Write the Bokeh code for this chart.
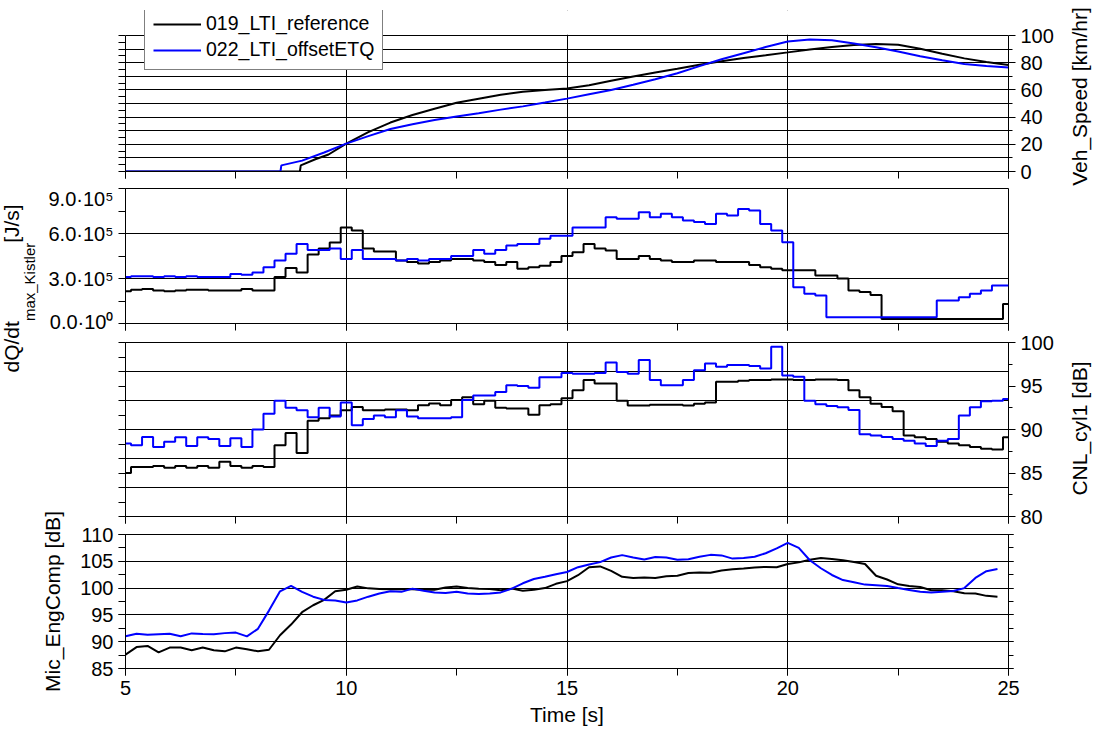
import math
import numpy as np
from bokeh.plotting import figure
from bokeh.layouts import column, row
from bokeh.models import (Range1d, LinearAxis, SingleIntervalTicker, FixedTicker,
                          Legend, LegendItem, Label, CustomJSTickFormatter,
                          BoxAnnotation)
from bokeh.embed import file_html
from bokeh.resources import INLINE

FONT = "Liberation Sans"
TICK_FS = "20px"
TITLE_FS = "21px"
BLUE = "#0000ff"

# ---------------------------------------------------------------- data
# logging raster of the sampled channels (0.25 s)
time_s = np.linspace(5.0, 25.0, 81)
mic_time_s = time_s[:-1]

# vehicle speed [km/h]
speed_ref_t = [5.0, 8.95, 8.97, 9.3, 9.6, 10.0, 10.5, 11.0, 11.5, 12.0, 12.5, 13.0,
               13.5, 14.0, 14.5, 15.0, 15.5, 16.0, 16.5, 17.0, 17.5, 18.0, 18.5,
               19.0, 19.5, 20.0, 20.5, 21.0, 21.5, 22.0, 22.5, 23.0, 23.5, 24.0,
               24.5, 25.0]
speed_ref = [0, 0, 4.5, 9.0, 12.5, 20.5, 29.0, 36.0, 41.5, 46.2, 50.5, 53.5,
             56.5, 58.7, 60.0, 61.0, 63.5, 66.7, 69.8, 72.8, 75.5, 78.5, 81.0,
             83.5, 85.5, 87.6, 89.8, 91.6, 93.0, 93.8, 93.2, 90.3, 86.6, 83.2,
             80.5, 78.3]
speed_etq_t = [5.0, 8.51, 8.53, 9.0, 9.5, 10.0, 10.5, 11.0, 11.5, 12.0, 12.5, 13.0,
               13.5, 14.0, 14.5, 15.0, 15.5, 16.0, 16.5, 17.0, 17.5, 18.0, 18.5,
               19.0, 19.5, 20.0, 20.5, 21.0, 21.5, 22.0, 22.5, 23.0, 23.5, 24.0,
               24.5, 25.0]
speed_etq = [0, 0, 4.5, 8.0, 14.0, 20.5, 26.0, 31.3, 34.8, 37.9, 40.4, 42.9,
             45.5, 47.9, 50.7, 53.6, 56.8, 60.0, 63.8, 67.8, 72.3, 77.5, 82.5,
             87.0, 91.5, 95.6, 97.0, 96.5, 94.2, 91.4, 88.2, 84.7, 81.8, 79.0,
             77.5, 76.5]

# heat release rate maximum [1e5 J/s], one row per second (x.00 .25 .50 .75)
dqdt_ref = [
    2.15, 2.25, 2.30, 2.20,   # 5
    2.15, 2.20, 2.25, 2.25,   # 6
    2.20, 2.20, 2.20, 2.30,   # 7
    2.20, 2.20, 3.10, 3.70,   # 8
    3.40, 4.60, 5.00, 5.40,   # 9
    6.40, 6.20, 5.00, 4.80,   # 10
    4.80, 4.20, 4.10, 4.00,   # 11
    4.10, 4.20, 4.30, 4.30,   # 12
    4.20, 4.10, 3.90, 4.10,   # 13
    3.65, 3.75, 3.85, 4.10,   # 14
    4.50, 4.75, 5.30, 5.00,   # 15
    4.87, 4.30, 4.30, 4.50,   # 16
    4.30, 4.20, 4.10, 4.10,   # 17
    4.20, 4.20, 4.10, 4.10,   # 18
    4.10, 3.90, 3.75, 3.65,   # 19
    3.55, 3.55, 3.55, 3.20,   # 20
    3.20, 3.00, 2.20, 2.10,   # 21
    1.90, 0.30, 0.30, 0.30,   # 22
    0.30, 0.30, 0.30, 0.30,   # 23
    0.30, 0.30, 0.30, 0.30,   # 24
    1.30]                     # 25
dqdt_etq = [
    3.10, 3.15, 3.15, 3.10,
    3.15, 3.10, 3.15, 3.10,
    3.10, 3.10, 3.30, 3.25,
    3.40, 3.75, 4.20, 4.65,
    5.30, 4.90, 4.90, 5.00,
    4.30, 4.90, 4.30, 4.30,
    4.30, 4.20, 4.30, 4.20,
    4.30, 4.30, 4.50, 4.50,
    4.90, 4.65, 4.90, 5.20,
    5.30, 5.30, 5.65, 5.85,
    5.85, 6.40, 6.40, 6.40,
    7.09, 6.98, 6.98, 7.42,
    7.09, 7.31, 7.09, 6.87,
    6.76, 6.64, 7.31, 7.20,
    7.64, 7.53, 6.64, 6.20,
    5.42, 2.42, 1.98, 1.87,
    0.42, 0.42, 0.42, 0.42,
    0.42, 0.42, 0.42, 0.42,
    0.42, 0.42, 1.53, 1.53,
    1.75, 1.98, 2.20, 2.53,
    2.53]

# combustion noise level cylinder 1 [dB]
cnl_ref = [
    85.0, 85.7, 85.7, 85.8,
    85.6, 85.8, 85.6, 85.8,
    85.6, 86.3, 85.8, 85.6,
    85.8, 85.7, 88.2, 89.6,
    87.3, 91.0, 91.3, 91.6,
    92.2, 92.6, 92.2, 92.2,
    92.3, 92.3, 92.2, 92.8,
    93.0, 92.8, 93.4, 93.7,
    92.9, 93.3, 92.5, 92.4,
    92.4, 91.7, 92.8, 92.9,
    93.6, 94.5, 95.7, 95.3,
    95.3, 93.3, 92.75, 92.75,
    92.85, 92.85, 92.85, 92.75,
    92.95, 93.1, 95.5, 95.5,
    95.6, 95.7, 95.7, 95.75,
    95.75, 95.7, 95.7, 95.75,
    95.75, 95.7, 94.5, 93.7,
    92.95, 92.6, 92.1, 89.3,
    89.1, 88.9, 88.6, 88.4,
    88.2, 88.0, 87.8, 87.7,
    89.1]
cnl_etq = [
    88.4, 88.2, 89.15, 88.0,
    88.6, 89.1, 88.1, 89.1,
    88.9, 88.1, 89.0, 88.0,
    90.0, 91.8, 93.3, 92.5,
    92.2, 91.4, 92.5, 91.5,
    93.1, 90.5, 91.2, 91.6,
    91.4, 92.2, 91.5, 91.3,
    91.3, 91.3, 91.4, 93.4,
    93.9, 93.9, 94.3, 95.1,
    95.0, 94.8, 96.0, 96.0,
    96.5, 96.4, 96.4, 96.5,
    97.7, 96.6, 96.4, 98.0,
    95.7, 95.1, 95.1, 95.7,
    96.8, 97.6, 97.2, 97.4,
    97.4, 97.3, 97.0, 99.5,
    96.2, 96.05, 93.3, 92.9,
    92.7, 92.55, 92.25, 89.45,
    89.3, 89.15, 88.9, 88.7,
    88.4, 88.1, 88.7, 88.9,
    91.6, 92.55, 93.25, 93.3,
    93.5]

# engine compartment microphone [dB]
mic_ref = [
    87.6, 89.0, 89.2, 88.0,
    88.9, 88.9, 88.4, 88.9,
    88.4, 88.2, 88.9, 88.6,
    88.2, 88.5, 91.2, 93.2,
    95.5, 96.8, 97.8, 99.4,
    99.7, 100.3, 99.95, 99.85,
    99.8, 99.8, 99.8, 99.7,
    99.7, 100.1, 100.3, 100.0,
    99.9, 99.85, 99.6, 99.9,
    99.5, 99.7, 100.0, 100.8,
    101.3, 102.4, 103.9, 104.05,
    103.2, 102.1, 101.9, 102.0,
    101.9, 102.2, 102.3, 102.8,
    102.9, 102.85, 103.3, 103.5,
    103.65, 103.85, 103.95, 103.9,
    104.5, 104.8, 105.3, 105.6,
    105.45, 105.2, 104.85, 104.5,
    102.3, 101.6, 100.7, 100.4,
    100.2, 99.6, 99.6, 99.4,
    99.05, 99.0, 98.55, 98.4]
mic_etq = [
    91.0, 91.5, 91.3, 91.4,
    91.5, 91.0, 91.55, 91.45,
    91.4, 91.6, 91.7, 91.0,
    92.4, 95.8, 99.4, 100.4,
    99.3, 98.4, 97.8, 97.7,
    97.3, 97.7, 98.4, 99.0,
    99.4, 99.3, 99.9, 99.5,
    99.2, 99.1, 99.3, 99.0,
    98.9, 99.0, 99.2, 99.9,
    100.9, 101.7, 102.1, 102.6,
    103.0, 103.9, 104.4, 104.85,
    105.7, 106.15, 105.7, 105.35,
    105.8, 105.7, 105.3, 105.4,
    105.85, 106.2, 106.1, 105.5,
    105.6, 105.85, 106.5, 107.4,
    108.45, 107.5, 105.2, 103.7,
    102.45, 101.5, 101.1, 100.65,
    100.55, 100.4, 100.0, 99.65,
    99.3, 99.2, 99.3, 99.45,
    100.0, 101.9, 103.15, 103.55]

legend_labels = ["019_LTI_reference", "022_LTI_offsetETQ"]
dq_tick_labels = {0: "0.0\u00b710\u2070", 3: "3.0\u00b710\u2075",
                  6: "6.0\u00b710\u2075", 9: "9.0\u00b710\u2075"}
speed_ticks = [0, 20, 40, 60, 80, 100]
speed_grid = [0, 10, 20, 30, 40, 50, 60, 70, 80, 90, 100]

# ---------------------------------------------------------------- helpers
x_range = Range1d(5, 25)
BLANK = CustomJSTickFormatter(code="return ''")


def style_axis(ax, labels=True, major_out=7, minor_out=7):
    ax.axis_line_color = "black"
    ax.axis_line_width = 1
    ax.major_tick_line_color = "black"
    ax.minor_tick_line_color = "black"
    ax.major_tick_in = 0
    ax.minor_tick_in = 0
    ax.major_tick_out = major_out
    ax.minor_tick_out = minor_out
    ax.major_label_text_font = FONT
    ax.major_label_text_color = "black"
    ax.axis_label_text_font = FONT
    ax.axis_label_text_font_size = TITLE_FS
    ax.axis_label_text_font_style = "normal"
    ax.axis_label_text_color = "black"
    if labels:
        ax.major_label_text_font_size = TICK_FS
        ax.major_label_standoff = 5
    else:
        ax.formatter = BLANK
        ax.major_label_text_font_size = "0px"
        ax.major_label_standoff = 0


def panel(width, height, left, right, top, bottom, y_range):
    p = figure(width=width, height=height, x_range=x_range, y_range=y_range,
               output_backend="svg", toolbar_location=None,
               min_border_left=left, min_border_right=right,
               min_border_top=top, min_border_bottom=bottom)
    p.background_fill_color = "white"
    p.border_fill_color = "white"
    p.outline_line_color = "black"
    p.outline_line_width = 1
    p.xgrid.ticker = SingleIntervalTicker(interval=5)
    for g in (p.xgrid[0], p.ygrid[0]):
        g.grid_line_color = "black"
        g.grid_line_width = 1
    xa = p.xaxis[0]
    xa.ticker = SingleIntervalTicker(interval=5, num_minor_ticks=2)
    style_axis(xa, labels=False)
    return p


def title_strip(width, height):
    s = figure(width=width, height=height, x_range=Range1d(0, 1), y_range=Range1d(0, 1),
               output_backend="svg", toolbar_location=None,
               x_axis_type=None, y_axis_type=None, min_border=0)
    s.outline_line_color = None
    s.background_fill_color = "white"
    s.border_fill_color = "white"
    return s


def vtext(s, txt, sx, sy, size, align="left"):
    s.add_layout(Label(x=sx, y=sy, x_units="screen", y_units="screen", text=txt,
                       angle=math.pi / 2, text_font=FONT, text_font_size=size,
                       text_align=align, text_baseline="alphabetic",
                       text_color="black"))


# ---------------------------------------------------------------- vehicle speed
# frame reaches above 100 km/h so the legend can sit over the top edge
p1 = panel(1062, 187, 125, 54, 10, 16, Range1d(0, 118.4))
p1.outline_line_color = None
p1.ygrid.ticker = FixedTicker(ticks=speed_grid)
ya = p1.yaxis[0]
ya.ticker = FixedTicker(ticks=speed_grid, minor_ticks=[v + 5 for v in speed_grid[:-1]])
ya.bounds = (0, 100)
style_axis(ya, labels=False)
ra = LinearAxis(ticker=FixedTicker(ticks=speed_ticks,
                                   minor_ticks=[v + 10 for v in speed_ticks[:-1]]),
                bounds=(0, 100))
style_axis(ra, labels=True, minor_out=4)
p1.add_layout(ra, "right")
p1.add_layout(BoxAnnotation(bottom=100.6, fill_color="white", fill_alpha=1.0,
                            line_alpha=0, level="underlay"))
r_ref = p1.line(speed_ref_t, speed_ref, line_color="black", line_width=2)
r_etq = p1.line(speed_etq_t, speed_etq, line_color=BLUE, line_width=2)
legend = Legend(items=[LegendItem(label=legend_labels[0], renderers=[r_ref]),
                       LegendItem(label=legend_labels[1], renderers=[r_etq])],
                location=(19, 101), orientation="vertical",
                label_text_font=FONT, label_text_font_size="19.5px",
                label_text_color="black", glyph_width=48, glyph_height=20,
                label_height=20, label_standoff=5, spacing=3, padding=8,
                margin=0, border_line_color="black", border_line_width=1,
                background_fill_color="white", background_fill_alpha=1.0)
p1.add_layout(legend)

# ---------------------------------------------------------------- dQ/dt max
p2 = panel(1022, 145, 85, 54, 1, 9, Range1d(0, 9))
p2.ygrid.ticker = FixedTicker(ticks=[3, 6])
ya = p2.yaxis[0]
ya.ticker = FixedTicker(ticks=[0, 3, 6, 9], minor_ticks=[1.5, 4.5, 7.5])
style_axis(ya, labels=True)
ya.major_label_overrides = dq_tick_labels
p2.step(time_s, dqdt_ref, mode="center", line_color="black", line_width=2)
p2.step(time_s, dqdt_etq, mode="center", line_color=BLUE, line_width=2)

# ---------------------------------------------------------------- CNL cylinder 1
p3 = panel(1022, 198, 85, 54, 10, 14, Range1d(80, 100))
cnl_grid = [80 + k * 10 / 3 for k in range(7)]
p3.ygrid.ticker = FixedTicker(ticks=cnl_grid)
ya = p3.yaxis[0]
ya.ticker = FixedTicker(ticks=cnl_grid, minor_ticks=[v + 5 / 3 for v in cnl_grid[:-1]])
style_axis(ya, labels=False)
ra = LinearAxis(ticker=SingleIntervalTicker(interval=5, num_minor_ticks=2))
style_axis(ra, labels=True, minor_out=4)
p3.add_layout(ra, "right")
p3.step(time_s, cnl_ref, mode="center", line_color="black", line_width=2)
p3.step(time_s, cnl_etq, mode="center", line_color=BLUE, line_width=2)

# ---------------------------------------------------------------- microphone
# pulled up under the panel above so its long title is not cut
p4 = panel(1097, 221, 125, 89, 24, 63, Range1d(85, 110))
p4.margin = (-20, 0, 0, 0)
p4.border_fill_alpha = 0
ya = p4.yaxis[0]
ya.ticker = SingleIntervalTicker(interval=5, num_minor_ticks=2)
p4.ygrid.ticker = SingleIntervalTicker(interval=5)
style_axis(ya, labels=True)
ya.axis_label = "Mic_EngComp [dB]"
ya.axis_label_standoff = 13
ra = LinearAxis(ticker=SingleIntervalTicker(interval=5, num_minor_ticks=2))
style_axis(ra, labels=False, major_out=5, minor_out=5)
p4.add_layout(ra, "right")
xa = p4.xaxis[0]
style_axis(xa, labels=True)
xa.formatter = p4.yaxis[0].formatter
xa.axis_label = "Time [s]"
p4.line(mic_time_s, mic_ref, line_color="black", line_width=2)
p4.line(mic_time_s, mic_etq, line_color=BLUE, line_width=2)

# ---------------------------------------------------------------- titles
# left: dQ/dt with subscript, spanning the dQ/dt and CNL rows
strip_l = title_strip(40, 343)
vtext(strip_l, "dQ/dt", 11, 158, TITLE_FS)
vtext(strip_l, "max_Kistler", 29, 209.4, "15px")
vtext(strip_l, " [J/s]", 11, 287.7, TITLE_FS)

# right: speed and CNL titles
strip_r = title_strip(35, 530)
vtext(strip_r, "Veh_Speed [km/hr]", 17, 434, TITLE_FS, align="center")
vtext(strip_r, "CNL_cyl1 [dB]", 17, 102, TITLE_FS, align="center")

upper = row(column(p1, row(strip_l, column(p2, p3))), strip_r)
layout = column(upper, p4)
open("out.html", "w").write(file_html(layout, INLINE))
